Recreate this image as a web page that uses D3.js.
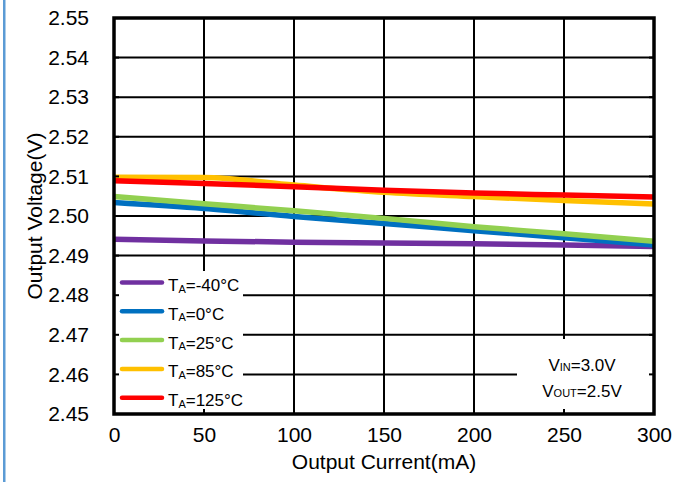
<!DOCTYPE html>
<html>
<head>
<meta charset="utf-8">
<script src="https://cdn.jsdelivr.net/npm/d3@7"></script>
<style>
  html, body { margin: 0; padding: 0; background: #fff; }
  svg { display: block; }
  text { font-family: Arial, "Liberation Sans", sans-serif; fill: #000; }
</style>
</head>
<body>
<svg id="chart" width="692" height="482"></svg>
<script>
// Output voltage vs. load current at several ambient temperatures
const current = [0, 50, 100, 150, 200, 250, 300];           // mA
const vM40  = [2.4941, 2.4937, 2.4934, 2.4932, 2.4930, 2.4927, 2.4923];
const v0    = [2.5034, 2.5019, 2.4999, 2.4981, 2.4963, 2.4945, 2.4927];
const v25   = [2.5049, 2.5031, 2.5013, 2.4994, 2.4973, 2.4955, 2.4936];
const v85   = [2.5098, 2.5097, 2.5078, 2.5060, 2.5049, 2.5039, 2.5030];
const v125  = [2.5089, 2.5082, 2.5074, 2.5065, 2.5058, 2.5053, 2.5048];

const seriesTemps  = ["-40°C", "0°C", "25°C", "85°C", "125°C"];
const seriesValues = [vM40, v0, v25, v85, v125];
const seriesColors = ["#7030a0", "#0070c0", "#92d050", "#ffc000", "#ff0000"];

const xTicks = [0, 50, 100, 150, 200, 250, 300];
const yTicks = [2.45, 2.46, 2.47, 2.48, 2.49, 2.50, 2.51, 2.52, 2.53, 2.54, 2.55];

const svg = d3.select("#chart");
const L = 114, R = 654, T = 18, B = 414;

const x = d3.scaleLinear().domain([0, 300]).range([L, R]);
const y = d3.scaleLinear().domain([2.45, 2.55]).range([B, T]);

// page edge rule on the left
svg.append("rect").attr("x", 3).attr("y", 0).attr("width", 2.5).attr("height", 482)
  .attr("fill", "#5b9bd5");

// grid
const grid = svg.append("g");
grid.selectAll("line.h").data(yTicks).join("line")
  .attr("x1", L).attr("x2", R).attr("y1", d => y(d)).attr("y2", d => y(d))
  .attr("stroke", "#000").attr("stroke-width", 2);
grid.selectAll("line.v").data(xTicks).join("line")
  .attr("y1", T).attr("y2", B).attr("x1", d => x(d)).attr("x2", d => x(d))
  .attr("stroke", "#000").attr("stroke-width", 2);

// series
const line = d3.line().x((d, i) => x(current[i])).y(d => y(d)).curve(d3.curveMonotoneX);
svg.append("g").selectAll("path").data(seriesValues).join("path")
  .attr("d", d => line(d))
  .attr("fill", "none")
  .attr("stroke", (d, i) => seriesColors[i])
  .attr("stroke-width", 5.5)
  .attr("stroke-linejoin", "round");

// legend panel
svg.append("rect").attr("x", L).attr("y", 271).attr("width", 243 - L).attr("height", B - 271)
  .attr("fill", "#fff");
const legend = svg.append("g");
const rowY = i => 282.5 + i * 28.8;
seriesTemps.forEach((t, i) => {
  legend.append("line")
    .attr("x1", 122).attr("x2", 162).attr("y1", rowY(i)).attr("y2", rowY(i))
    .attr("stroke", seriesColors[i]).attr("stroke-width", 4.5)
    .attr("stroke-linecap", "round");
  const tx = legend.append("text").attr("x", 168).attr("y", rowY(i) + 8.5)
    .attr("font-size", 17);
  tx.append("tspan").text("T");
  tx.append("tspan").attr("font-size", 11).attr("dy", 1.5).text("A");
  tx.append("tspan").attr("dy", -1.5).text("=" + t);
});

// operating-condition note
svg.append("rect").attr("x", 517).attr("y", 339).attr("width", R - 517).attr("height", B - 339)
  .attr("fill", "#fff");
const note = svg.append("g").attr("font-size", 17);
[["V", "IN", "=3.0V", 371], ["V", "OUT", "=2.5V", 397]].forEach(([a, s, b, yy]) => {
  const t = note.append("text").attr("x", 582).attr("y", yy).attr("text-anchor", "middle");
  t.append("tspan").text(a);
  t.append("tspan").attr("font-size", 11).text(s);
  t.append("tspan").text(b);
});

// inward tick marks
const ticks = svg.append("g").attr("stroke", "#000").attr("stroke-width", 2);
ticks.selectAll("line.l").data(yTicks).join("line")
  .attr("x1", L).attr("x2", L + 5).attr("y1", d => y(d)).attr("y2", d => y(d));
ticks.selectAll("line.r").data(yTicks).join("line")
  .attr("x1", R - 5).attr("x2", R).attr("y1", d => y(d)).attr("y2", d => y(d));
ticks.selectAll("line.b").data(xTicks).join("line")
  .attr("x1", d => x(d)).attr("x2", d => x(d)).attr("y1", B - 5).attr("y2", B);

// plot frame
svg.append("rect").attr("x", L).attr("y", T).attr("width", R - L).attr("height", B - T)
  .attr("fill", "none").attr("stroke", "#000").attr("stroke-width", 3.5);

// axes labels
const yAxis = d3.axisLeft(y).tickValues(yTicks).tickFormat(d3.format(".2f")).tickSize(0).tickPadding(25);
const gy = svg.append("g").attr("transform", `translate(${L},0)`).call(yAxis);
gy.select(".domain").remove();
gy.selectAll("text").attr("font-size", 21).attr("font-family", "Arial, 'Liberation Sans', sans-serif");

const xAxis = d3.axisBottom(x).tickValues(xTicks).tickFormat(d3.format("d")).tickSize(0).tickPadding(13);
const gx = svg.append("g").attr("transform", `translate(0,${B})`).call(xAxis);
gx.select(".domain").remove();
gx.selectAll("text").attr("font-size", 21).attr("font-family", "Arial, 'Liberation Sans', sans-serif");

svg.append("text").attr("x", (L + R) / 2).attr("y", 469).attr("text-anchor", "middle")
  .attr("font-size", 21).text("Output Current(mA)");
svg.append("text").attr("transform", `translate(42,${(T + B) / 2}) rotate(-90)`)
  .attr("text-anchor", "middle").attr("font-size", 21).text("Output Voltage(V)");
</script>
</body>
</html>
